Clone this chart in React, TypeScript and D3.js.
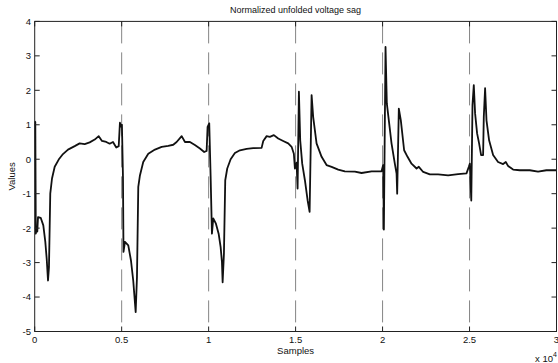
import React from "react";
import * as d3 from "d3";

const samples: number[] = [
  0, 35, 63, 115, 150, 190, 345, 495, 610, 690, 765, 820, 895, 995, 1150, 1380, 1625, 1915, 2300, 2585, 2875, 3160, 3450, 3680, 3870, 4115, 4310, 4500, 4690, 4830, 4900, 4960, 5015, 5075, 5105, 5190, 5380, 5535, 5665, 5805, 5880, 5955, 6050, 6240, 6530, 6915, 7300, 7680, 7965, 8160, 8450, 8640, 8925, 9210, 9500, 9745, 9885, 9940, 10035, 10115, 10190, 10265, 10420, 10575, 10690, 10765, 10805, 10880, 10955, 11070, 11265, 11510, 11800, 12185, 12560, 13045, 13140, 13335, 13520, 13750, 14000, 14285, 14575, 14770, 14900, 14960, 15055, 15115, 15190, 15265, 15380, 15535, 15690, 15805, 15920, 16010, 16205, 16495, 16780, 17070, 17450, 17830, 18410, 18790, 19370, 19940, 20035, 20075, 20170, 20245, 20360, 20515, 20705, 20805, 20840, 20935, 21050, 21240, 21435, 21665, 21955, 22085, 22335, 22720, 23195, 23770, 24345, 24825, 24960, 25015, 25100, 25170, 25245, 25320, 25435, 25550, 25665, 25780, 25820, 25895, 25975, 26125, 26355, 26640, 26930, 27085, 27220, 27505, 27890, 28465, 28940, 29420, 30000,
];

const values: number[] = [
  1.1, 1.08, -2.16, -2.0, -2.1, -1.68, -1.7, -1.92, -2.4, -2.89, -3.52, -3.13, -1.0, -0.56, -0.22, -0.01, 0.15, 0.28, 0.38, 0.46, 0.44, 0.49, 0.57, 0.67, 0.53, 0.5, 0.45, 0.5, 0.34, 0.38, 1.06, 0.95, 1.0, -0.5, -2.69, -2.4, -2.5, -2.94, -3.52, -4.44, -3.42, -0.8, -0.47, -0.08, 0.16, 0.28, 0.36, 0.39, 0.42, 0.5, 0.67, 0.5, 0.5, 0.41, 0.31, 0.21, 0.24, 0.94, 1.04, -0.51, -2.16, -1.72, -1.87, -2.16, -2.55, -2.98, -3.57, -2.74, -0.61, -0.27, 0.0, 0.18, 0.26, 0.3, 0.32, 0.33, 0.53, 0.67, 0.65, 0.7, 0.6, 0.53, 0.46, 0.36, 0.16, -0.27, -0.1, -0.85, 1.96, 0.55, -0.13, -0.61, -1.19, -1.53, 1.86, 1.23, 0.46, 0.07, -0.17, -0.22, -0.3, -0.35, -0.36, -0.4, -0.35, -0.35, -0.17, -2.04, 3.26, 1.62, 1.13, 0.46, -0.13, -0.42, -1.0, 1.47, 1.13, 0.26, 0.07, -0.13, -0.27, -0.22, -0.37, -0.44, -0.44, -0.47, -0.43, -0.41, -0.22, -0.13, -1.2, 1.57, 2.15, 1.33, 0.75, 0.46, 0.12, 0.12, 1.23, 2.06, 1.13, 0.55, 0.12, -0.08, -0.14, -0.08, -0.2, -0.3, -0.32, -0.32, -0.36, -0.32, -0.32,
];

const xTicks: number[] = [0, 5000, 10000, 15000, 20000, 25000, 30000];
const xTickLabels: string[] = ["0", "0.5", "1", "1.5", "2", "2.5", "3"];
const gridX: number[] = [5000, 10000, 15000, 20000, 25000];
const yTicks: number[] = [-5, -4, -3, -2, -1, 0, 1, 2, 3, 4];

const title = "Normalized unfolded voltage sag";
const xLabel = "Samples";
const yLabel = "Values";

const W = 558;
const H = 363;
const L = 34.7;
const R = 556.5;
const T = 21.4;
const B = 331.5;
const FONT = "'Liberation Sans', Arial, sans-serif";

export default function App() {
  const x = d3.scaleLinear().domain([0, 30000]).range([L, R]);
  const y = d3.scaleLinear().domain([-5, 4]).range([B, T]);
  const pts = samples.map((s, i) => [s, values[i]] as [number, number]);
  const line = d3
    .line<[number, number]>()
    .x((d) => x(d[0]))
    .y((d) => y(d[1]));
  const tl = 5;
  return (
    <svg
      width={W}
      height={H}
      style={{ position: "absolute", left: 0, top: 0, background: "#fff" }}
      fontFamily={FONT}
    >
      <rect x={0} y={0} width={W} height={H} fill="#fff" />
      {gridX.map((g) => (
        <line
          key={"g" + g}
          x1={x(g)}
          x2={x(g)}
          y1={T}
          y2={B}
          stroke="#777"
          strokeWidth={0.9}
          strokeDasharray="22,9"
        />
      ))}
      <path d={line(pts) || ""} fill="none" stroke="#111" strokeWidth={1.8} strokeLinejoin="round" />
      <rect x={L} y={T} width={R - L} height={B - T} fill="none" stroke="#222" strokeWidth={1} />
      {xTicks.map((t, i) => (
        <g key={"xt" + t}>
          <line x1={x(t)} x2={x(t)} y1={B} y2={B - tl} stroke="#222" />
          <line x1={x(t)} x2={x(t)} y1={T} y2={T + tl} stroke="#222" />
          <text x={x(t)} y={343} fontSize={9.5} textAnchor="middle" fill="#111">
            {xTickLabels[i]}
          </text>
        </g>
      ))}
      {yTicks.map((t) => (
        <g key={"yt" + t}>
          <line x1={L} x2={L + tl} y1={y(t)} y2={y(t)} stroke="#222" />
          <line x1={R} x2={R - tl} y1={y(t)} y2={y(t)} stroke="#222" />
          <text x={31} y={y(t) + 3.4} fontSize={9.5} textAnchor="end" fill="#111">
            {t}
          </text>
        </g>
      ))}
      <text x={(L + R) / 2} y={13} fontSize={9} textAnchor="middle" fill="#111">
        {title}
      </text>
      <text x={(L + R) / 2} y={354} fontSize={9.5} textAnchor="middle" fill="#111">
        {xLabel}
      </text>
      <text
        transform={`translate(15,${(T + B) / 2}) rotate(-90)`}
        fontSize={9.5}
        textAnchor="middle"
        fill="#111"
      >
        {yLabel}
      </text>
      <text x={535} y={362} fontSize={9.5} fill="#111">
        x 10
        <tspan dy={-5} fontSize={7}>
          4
        </tspan>
      </text>
    </svg>
  );
}
